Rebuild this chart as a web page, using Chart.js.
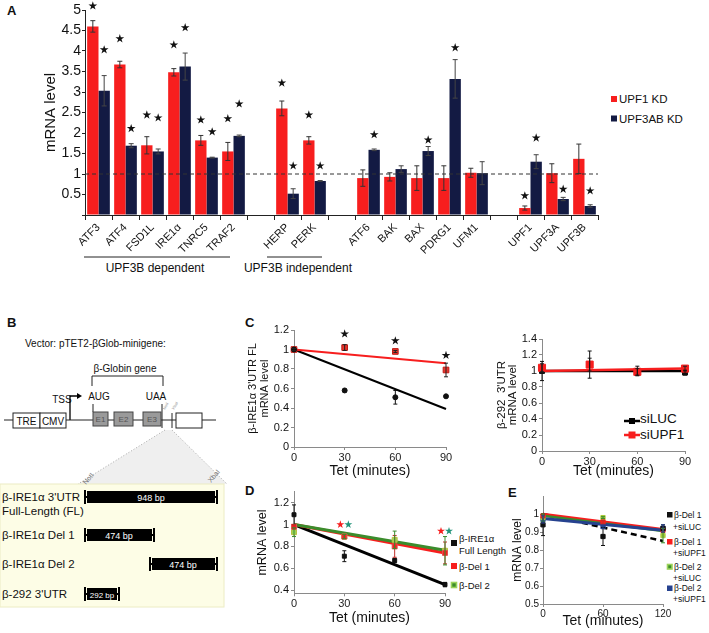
<!DOCTYPE html>
<html>
<head>
<meta charset="utf-8">
<title>UPF knockdown and IRE1a 3'UTR decay</title>
<script src="https://cdn.jsdelivr.net/npm/chart.js@4.4.1/dist/chart.umd.min.js"></script>
<style>
  body { margin: 0; width: 709px; height: 633px; position: relative; overflow: hidden; background: #fff;
         font-family: "Liberation Sans", Arial, Helvetica, sans-serif; color: #111; }
  canvas, svg { position: absolute; }
  svg text { font-family: "Liberation Sans", Arial, Helvetica, sans-serif; fill: #111; }
  .pl { font-weight: bold; font-size: 13px; }
</style>
</head>
<body>
<svg width="709" height="633" style="left:0;top:0">
  <!-- panel letters -->
  <text class="pl" x="7" y="15">A</text>
  <text class="pl" x="7" y="327">B</text>
  <text class="pl" x="245" y="327">C</text>
  <text class="pl" x="245" y="495">D</text>
  <text class="pl" x="508" y="497">E</text>

  <!-- A: gene groups -->
  <line x1="84" y1="257" x2="230" y2="257" stroke="#222"/>
  <text x="155" y="272" text-anchor="middle" font-size="12">UPF3B dependent</text>
  <line x1="267" y1="257" x2="322" y2="257" stroke="#222"/>
  <text x="298" y="272" text-anchor="middle" font-size="12">UPF3B independent</text>

  <!-- A: legend -->
  <rect x="611" y="96" width="6" height="6" fill="#f71e1e"/>
  <text x="619" y="103" font-size="11.5">UPF1 KD</text>
  <rect x="611" y="115.5" width="6" height="6" fill="#131a43"/>
  <text x="619" y="122.5" font-size="11.5">UPF3AB KD</text>

  <!-- B: vector map -->
  <text x="25" y="347" font-size="10">Vector: pTET2-βGlob-minigene:</text>
  <path d="M92 386 V376 H163 V386" fill="none" stroke="#222"/>
  <text x="125" y="372" text-anchor="middle" font-size="10">β-Globin gene</text>
  <text x="99" y="400" text-anchor="middle" font-size="10">AUG</text>
  <text x="156" y="400" text-anchor="middle" font-size="10">UAA</text>
  <text x="62" y="403" text-anchor="middle" font-size="10">TSS</text>
  <path d="M70 420 V396 H78" fill="none" stroke="#000" stroke-width="1.3"/>
  <path d="M77 393 L82 396 L77 399 Z" fill="#000"/>
  <polygon points="165,430 172,430 227,484 78,484" fill="#efefef"/>
  <line x1="165" y1="430" x2="78" y2="484" stroke="#aaa" stroke-dasharray="1,2"/>
  <line x1="172" y1="430" x2="227" y2="484" stroke="#aaa" stroke-dasharray="1,2"/>
  <line x1="4" y1="420" x2="216" y2="420" stroke="#222"/>
  <rect x="13" y="413" width="27" height="15" fill="#fff" stroke="#222"/>
  <rect x="40" y="413" width="26" height="15" fill="#fff" stroke="#222"/>
  <text x="26.5" y="424.5" text-anchor="middle" font-size="10">TRE</text>
  <text x="53" y="424.5" text-anchor="middle" font-size="10">CMV</text>
  <line x1="93" y1="404" x2="93" y2="412" stroke="#222"/>
  <line x1="162" y1="404" x2="162" y2="428" stroke="#222"/>
  <rect x="93" y="412" width="15" height="14" fill="#9a9a9a" stroke="#444"/>
  <rect x="114" y="412" width="19" height="14" fill="#9a9a9a" stroke="#444"/>
  <rect x="143" y="412" width="18" height="14" fill="#9a9a9a" stroke="#444"/>
  <text x="100.5" y="422" text-anchor="middle" font-size="8" style="fill:#555">E1</text>
  <text x="123.5" y="422" text-anchor="middle" font-size="8" style="fill:#555">E2</text>
  <text x="152" y="422" text-anchor="middle" font-size="8" style="fill:#555">E3</text>
  <line x1="172" y1="413" x2="172" y2="428" stroke="#222"/>
  <rect x="176" y="413" width="26" height="15" fill="#fff" stroke="#222"/>
  <text x="165" y="410" font-size="4" transform="rotate(-60 165 410)" style="fill:#888">NotI</text>
  <text x="174" y="410" font-size="4" transform="rotate(-60 174 410)" style="fill:#888">XbaI</text>

  <!-- B: 3'UTR constructs -->
  <rect x="0" y="484" width="224" height="123" fill="#fdfde6" stroke="#ececc4"/>
  <text x="86" y="485" font-size="7" transform="rotate(-50 86 485)" style="fill:#777">NotI</text>
  <text x="211" y="483" font-size="7" transform="rotate(-50 211 483)" style="fill:#777">XbaI</text>

  <text x="2" y="501" font-size="11.5">β-IRE1α 3'UTR</text>
  <text x="2" y="515" font-size="11.5">Full-Length (FL)</text>
  <path d="M85 490 V504 M85 497 H88 M217 490 V504 M217 497 H214" stroke="#000" stroke-width="2"/>
  <rect x="87" y="491" width="128" height="12" fill="#000"/>
  <text x="151" y="500.5" text-anchor="middle" font-size="9" style="fill:#fff">948 bp</text>

  <text x="2" y="539" font-size="11.5">β-IRE1α Del 1</text>
  <path d="M85 528 V542 M85 535 H88 M154 528 V542 M154 535 H151" stroke="#000" stroke-width="2"/>
  <rect x="87" y="529" width="65" height="12" fill="#000"/>
  <text x="119" y="538.5" text-anchor="middle" font-size="9" style="fill:#fff">474 bp</text>

  <text x="2" y="568" font-size="11.5">β-IRE1α Del 2</text>
  <path d="M150 557 V571 M150 564 H153 M217 557 V571 M217 564 H214" stroke="#000" stroke-width="2"/>
  <rect x="152" y="558" width="63" height="12" fill="#000"/>
  <text x="183" y="567.5" text-anchor="middle" font-size="9" style="fill:#fff">474 bp</text>

  <text x="2" y="598" font-size="11.5">β-292 3'UTR</text>
  <path d="M85 587 V601 M85 594 H88 M119 587 V601 M119 594 H116" stroke="#000" stroke-width="2"/>
  <rect x="87" y="588" width="30" height="12" fill="#000"/>
  <text x="102" y="597.5" text-anchor="middle" font-size="8" style="fill:#fff">292 bp</text>

  <!-- C right: legend -->
  <line x1="624" y1="421" x2="640" y2="421" stroke="#000" stroke-width="2.5"/>
  <rect x="629" y="418" width="6" height="6" fill="#000"/>
  <text x="640" y="423" font-size="13.5">siLUC</text>
  <line x1="624" y1="435" x2="640" y2="435" stroke="#f71e1e" stroke-width="2.5"/>
  <rect x="628.5" y="431.5" width="7" height="7" fill="#f71e1e"/>
  <text x="640" y="439" font-size="13.5">siUPF1</text>

  <!-- D: legend -->
  <rect x="451" y="540" width="6" height="6" fill="#111"/>
  <text x="459" y="542" font-size="9.5">β-IRE1α</text>
  <text x="459" y="554" font-size="9.5">Full Length</text>
  <rect x="451" y="563" width="6" height="6" fill="#f71e1e"/>
  <text x="459" y="569.5" font-size="9.5">β-Del 1</text>
  <rect x="451.5" y="582.5" width="5" height="5" fill="#3b8c2c" stroke="#9bd35a" stroke-width="1.6"/>
  <text x="459" y="588.5" font-size="9.5">β-Del 2</text>

  <!-- E: legend -->
  <rect x="667" y="512" width="5.5" height="5.5" fill="#111"/>
  <text x="674" y="518" font-size="8.5">β-Del 1</text>
  <text x="673" y="530" font-size="8.5">+siLUC</text>
  <rect x="667" y="539" width="5.5" height="5.5" fill="#f71e1e"/>
  <text x="674" y="545" font-size="8.5">β-Del 1</text>
  <text x="673" y="555.5" font-size="8.5">+siUPF1</text>
  <rect x="667.5" y="564.5" width="4.5" height="4.5" fill="#3b8c2c" stroke="#9bd35a" stroke-width="1.6"/>
  <text x="674" y="570" font-size="8.5">β-Del 2</text>
  <text x="673" y="580.5" font-size="8.5">+siLUC</text>
  <rect x="667" y="585.5" width="5.5" height="5.5" fill="#26428f"/>
  <text x="674" y="591" font-size="8.5">β-Del 2</text>
  <text x="673" y="602" font-size="8.5">+siUPF1</text>
</svg>

<script>
Chart.defaults.font.family = '"Liberation Sans", Arial, Helvetica, sans-serif';
Chart.defaults.color = '#111';

const RED = '#f71e1e', NAVY = '#131a43', GREEN = '#3b8c2c', LIGHT_GREEN = '#9bd35a', BLUE = '#26428f';
const AXIS = '#8a8a8a';

// ---- A: mRNA level after knockdown (blank labels are the gaps between gene groups)
const genes = ['ATF3', 'ATF4', 'FSD1L', 'IRE1α', 'TNRC5', 'TRAF2', '', 'HERP', 'PERK', '',
  'ATF6', 'BAK', 'BAX', 'PDRG1', 'UFM1', '', 'UPF1', 'UPF3A', 'UPF3B'];
const upf1KD = [4.60, 3.67, 1.70, 3.48, 1.82, 1.55, null, 2.60, 1.82, null,
  0.90, 0.93, 0.90, 0.90, 1.03, null, 0.17, 1.02, 1.37];
const upf1KDErr = [0.14, 0.08, 0.21, 0.09, 0.12, 0.22, null, 0.18, 0.09, null,
  0.20, 0.10, 0.30, 0.30, 0.11, null, 0.05, 0.23, 0.36];
const upf3abKD = [3.03, 1.69, 1.55, 3.62, 1.40, 1.93, null, 0.52, 0.83, null,
  1.59, 1.12, 1.56, 3.32, 1.02, null, 1.30, 0.39, 0.22];
const upf3abKDErr = [0.37, 0.05, 0.06, 0.33, 0.01, 0.02, null, 0.12, 0.01, null,
  0.02, 0.08, 0.11, 0.47, 0.28, null, 0.17, 0.04, 0.03];
const upf1KDStar = [5.10, 4.30, 2.44, 4.15, 2.32, 2.35, null, 3.22, 2.44, null,
  null, null, null, null, null, null, 0.47, null, null];
const upf3abKDStar = [4.03, 2.11, 2.37, 4.57, 2.03, 2.71, null, 1.20, 1.20, null,
  1.96, null, 1.83, 4.08, null, null, 1.88, 0.63, 0.59];
const aRefLevel = 1;

// ---- C: decay after Tet, full-length 3'UTR and β-292 control
const tetC = [0, 30, 60, 90];
const flLuc = [1.00, 0.58, 0.51, 0.52];
const flLucErr = [0.01, 0.015, 0.07, 0.01];
const flUpf1 = [1.00, 1.02, 0.98, 0.79];
const flUpf1Err = [0.01, 0.03, 0.01, 0.07];
const flLucFit = [1.00, 0.39];
const flUpf1Fit = [1.00, 0.86];
const flStar = [null, 1.16, 1.09, 0.94];

const c292Luc = [1.00, 1.08, 1.00, 0.98];
const c292LucErr = [0.12, 0.17, 0.06, 0.03];
const c292Upf1 = [1.04, 1.08, 0.99, 1.03];
const c292Upf1Err = [0.05, 0.08, 0.04, 0.03];
const c292LucFit = [1.00, 1.00];
const c292Upf1Fit = [1.00, 1.03];

// ---- D: deletion constructs
const tetD = [0, 30, 60, 90];
const dFull = [1.09, 0.71, 0.67, 0.45];
const dFullErr = [0.09, 0.05, 0.02, 0.02];
const dDel1 = [0.98, 0.89, 0.80, 0.74];
const dDel1Err = [0.02, 0.02, 0.10, 0.10];
const dDel2 = [0.93, 0.89, 0.86, 0.76];
const dDel2Err = [0.04, 0.02, 0.08, 0.13];
const dFullFit = [1.00, 0.45];
const dDel1Fit = [1.00, 0.74];
const dDel2Fit = [1.00, 0.765];
const dDelStar = [null, 1.00, null, 0.94];

// ---- E: deletion constructs with siLUC / siUPF1
const tetE = [0, 60, 120];
const eDel1Luc = [0.94, 0.875, 0.92];
const eDel1LucErr = [0.06, 0.05, 0.02];
const eDel1Upf1 = [0.99, 0.955, 0.91];
const eDel1Upf1Err = [0.01, 0.01, 0.01];
const eDel2Luc = [0.98, 0.98, 0.88];
const eDel2LucErr = [0.02, 0.005, 0.04];
const eDel2Upf1 = [0.97, 0.93, 0.92];
const eDel2Upf1Err = [0.02, 0.01, 0.02];
const eDel1LucFit = [1.00, 0.85];
const eDel1Upf1Fit = [1.00, 0.915];
const eDel2LucFit = [0.99, 0.905];
const eDel2Upf1Fit = [0.975, 0.91];
const eTicks = [0.5, 0.6, 0.7, 0.8, 0.9, 1];
const eTickLabels = ['0.5', '0.6', '0.7', '0.8', '0.9', '1'];

// error bars, drawn through the y scale
const errorBars = {
  id: 'errorBars',
  afterDatasetsDraw(chart) {
    const { ctx } = chart, y = chart.scales.y;
    chart.data.datasets.forEach((ds, i) => {
      if (!ds.errors) return;
      const meta = chart.getDatasetMeta(i);
      ctx.save();
      ctx.strokeStyle = ds.errorColor || '#222';
      ctx.lineWidth = 1;
      meta.data.forEach((el, j) => {
        const d = ds.data[j];
        const v = d && typeof d === 'object' ? d.y : d;
        const e = ds.errors[j];
        if (v == null || !e) return;
        const top = y.getPixelForValue(v + e), bot = y.getPixelForValue(v - e), w = ds.capWidth || 2;
        ctx.beginPath();
        ctx.moveTo(el.x, top); ctx.lineTo(el.x, bot);
        ctx.moveTo(el.x - w, top); ctx.lineTo(el.x + w, top);
        ctx.moveTo(el.x - w, bot); ctx.lineTo(el.x + w, bot);
        ctx.stroke();
      });
      ctx.restore();
    });
  }
};

function drawStar(ctx, x, y, r) {
  ctx.beginPath();
  for (let k = 0; k < 10; k++) {
    const rad = k % 2 ? r * 0.38 : r;
    const a = -Math.PI / 2 + k * Math.PI / 5;
    ctx.lineTo(x + rad * Math.cos(a), y + rad * Math.sin(a));
  }
  ctx.closePath();
  ctx.fill();
}

// significance stars
const starMarks = {
  id: 'starMarks',
  afterDatasetsDraw(chart) {
    const { ctx } = chart, y = chart.scales.y;
    chart.data.datasets.forEach((ds, i) => {
      if (!ds.stars) return;
      const meta = chart.getDatasetMeta(i);
      ctx.save();
      ctx.fillStyle = ds.starColor || '#111';
      ds.stars.forEach((s, j) => {
        if (s == null) return;
        drawStar(ctx, meta.data[j].x + (ds.starDx || 0), y.getPixelForValue(s), ds.starSize || 5);
      });
      ctx.restore();
    });
  }
};

// y tick labels written at the scale's own pixel positions (used for panel E)
const yTickText = {
  id: 'yTickText',
  afterDraw(chart, args, opts) {
    if (!opts || !opts.values) return;
    const { ctx } = chart, y = chart.scales.y;
    ctx.save();
    ctx.font = opts.size + 'px "Liberation Sans", Arial, Helvetica, sans-serif';
    ctx.fillStyle = '#111';
    ctx.textAlign = 'right';
    ctx.textBaseline = 'middle';
    opts.values.forEach((v, i) => ctx.fillText(opts.labels[i], y.right - opts.offset, y.getPixelForValue(v)));
    ctx.restore();
  }
};

const refLine = {
  id: 'refLine',
  afterDatasetsDraw(chart, args, opts) {
    const { ctx, chartArea } = chart;
    const py = chart.scales.y.getPixelForValue(opts.value);
    ctx.save();
    ctx.strokeStyle = '#333';
    ctx.lineWidth = 1;
    ctx.setLineDash([4, 3]);
    ctx.beginPath();
    ctx.moveTo(chartArea.left, py); ctx.lineTo(chartArea.right, py);
    ctx.stroke();
    ctx.restore();
  }
};

function addCanvas(box) {
  const cv = document.createElement('canvas');
  cv.width = box[2]; cv.height = box[3];
  cv.style.left = box[0] + 'px'; cv.style.top = box[1] + 'px';
  document.body.appendChild(cv);
  return cv;
}

const pts = (xs, ys) => xs.map((x, i) => ({ x, y: ys[i] }));
const pointSet = (xs, ys, errs, style) => Object.assign({
  data: pts(xs, ys), errors: errs, clip: false, pointStyle: 'rect', pointRadius: 3.5, borderWidth: 1
}, style);
const fitSet = (xs, fit, style) => Object.assign({
  data: pts([xs[0], xs[xs.length - 1]], fit), showLine: true, pointRadius: 0, borderWidth: 2.5, clip: false
}, style);

// box = canvas [left, top, width, height], area = plot [left, top, right, bottom], page pixels
function xyChart(box, area, o) {
  const ownLabels = !!o.yLabels;
  return new Chart(addCanvas(box), {
    type: 'scatter',
    data: { datasets: o.datasets },
    options: {
      responsive: false, animation: false, events: [],
      layout: { padding: { top: area[1] - box[1], right: box[0] + box[2] - area[2], left: 0, bottom: 0 } },
      plugins: {
        legend: { display: false }, tooltip: { enabled: false },
        yTickText: ownLabels ? { values: o.yTicks, labels: o.yLabels, size: o.tickSize, offset: (o.tickLen || 3) + (o.tickPad ?? 2) } : {}
      },
      scales: {
        x: {
          type: 'linear', min: o.xTicks[0], max: o.xTicks[o.xTicks.length - 1],
          afterBuildTicks: s => { s.ticks = o.xTicks.map(value => ({ value })); },
          afterFit: s => { s.height = box[1] + box[3] - area[3]; },
          grid: { drawOnChartArea: false, tickLength: o.tickLen || 3, color: AXIS },
          border: { color: AXIS },
          ticks: { autoSkip: false, maxRotation: 0, font: { size: o.tickSize }, padding: o.tickPad ?? 1, color: '#222' },
          title: { display: true, text: 'Tet (minutes)', font: { size: 14 }, padding: 0, color: '#111' }
        },
        y: {
          type: 'linear', min: o.yMin, max: o.yMax,
          afterBuildTicks: s => { s.ticks = o.yTicks.map(value => ({ value })); },
          afterFit: s => { s.width = area[0] - box[0]; },
          grid: { drawOnChartArea: false, tickLength: o.tickLen || 3, color: AXIS },
          border: { color: AXIS },
          ticks: {
            display: !ownLabels, autoSkip: false, font: { size: o.tickSize }, padding: o.tickPad ?? 2, color: '#111',
            callback: v => String(+v.toFixed(2))
          },
          title: { display: true, text: o.yTitle, font: { size: o.yTitleSize, lineHeight: o.yTitleLH }, padding: 0, color: '#111' }
        }
      }
    },
    plugins: [errorBars, starMarks, yTickText]
  });
}

// ---- Panel A
new Chart(addCanvas([0, 0, 709, 285]), {
  type: 'bar',
  data: {
    labels: genes,
    datasets: [
      { label: 'UPF1 KD', data: upf1KD, backgroundColor: RED, errors: upf1KDErr, stars: upf1KDStar,
        errorColor: '#333', capWidth: 2.5, starSize: 4.6 },
      { label: 'UPF3AB KD', data: upf3abKD, backgroundColor: NAVY, errors: upf3abKDErr, stars: upf3abKDStar,
        errorColor: '#444', capWidth: 2.5, starSize: 4.6 }
    ]
  },
  options: {
    responsive: false, animation: false, events: [],
    layout: { padding: { top: 10, right: 111, left: 0, bottom: 0 } },
    datasets: { bar: { categoryPercentage: 0.84, barPercentage: 1 } },
    plugins: { legend: { display: false }, tooltip: { enabled: false }, refLine: { value: aRefLevel } },
    scales: {
      x: {
        afterFit: s => { s.height = 70; },
        grid: { drawOnChartArea: false, offset: true, tickLength: 5, color: '#222' },
        border: { color: '#222' },
        ticks: { autoSkip: false, maxRotation: 45, minRotation: 45, font: { size: 11 }, padding: 1, color: '#111' }
      },
      y: {
        min: 0, max: 5,
        afterFit: s => { s.width = 85; },
        grid: { drawOnChartArea: false, tickLength: 3, color: '#222' },
        border: { color: '#222' },
        ticks: { autoSkip: false, stepSize: 0.5, font: { size: 14 }, padding: 1, color: '#111', callback: v => v === 0 ? '' : v },
        title: { display: true, text: 'mRNA level', font: { size: 15 }, padding: { top: 42, bottom: 0 }, color: '#111' }
      }
    }
  },
  plugins: [errorBars, starMarks, refLine]
});

// ---- Panel C left: β-IRE1α 3'UTR FL
xyChart([247, 318, 210, 162], [294, 330, 446, 447], {
  xTicks: tetC, yMin: 0, yMax: 1.2, yTicks: [0, 0.2, 0.4, 0.6, 0.8, 1, 1.2], tickSize: 11,
  yTitle: ["β-IRE1α 3'UTR FL", 'mRNA level'], yTitleSize: 11, yTitleLH: 1.1,
  datasets: [
    pointSet(tetC, flLuc, flLucErr, { pointStyle: 'circle', pointRadius: 2.5, backgroundColor: '#111', borderColor: '#111',
      errorColor: '#111', stars: flStar, starSize: 4.6 }),
    pointSet(tetC, flUpf1, flUpf1Err, { pointRadius: 4, backgroundColor: '#e8372f', borderColor: '#c01a14', errorColor: '#222' }),
    fitSet(tetC, flUpf1Fit, { borderColor: RED, borderWidth: 2 }),
    fitSet(tetC, flLucFit, { borderColor: '#000', borderWidth: 2 })
  ]
});

// ---- Panel C right: β-292 3'UTR
xyChart([496, 325, 213, 155], [542, 339, 685, 451], {
  xTicks: tetC, yMin: 0, yMax: 1.4, yTicks: [0, 0.2, 0.4, 0.6, 0.8, 1, 1.2, 1.4], tickSize: 11,
  yTitle: ["β-292  3'UTR", 'mRNA level'], yTitleSize: 11.5, yTitleLH: 1.0,
  datasets: [
    pointSet(tetC, c292Upf1, c292Upf1Err, { pointRadius: 5, backgroundColor: RED, borderColor: RED, errorColor: '#222' }),
    pointSet(tetC, c292Luc, c292LucErr, { pointRadius: 3.5, backgroundColor: '#111', borderColor: '#111', errorColor: '#111' }),
    fitSet(tetC, c292Upf1Fit, { borderColor: RED, borderWidth: 2.5 }),
    fitSet(tetC, c292LucFit, { borderColor: '#000', borderWidth: 2.5 })
  ]
});

// ---- Panel D
xyChart([255, 480, 200, 147], [294, 491.8, 445, 593.3], {
  xTicks: tetD, yMin: 0.37, yMax: 1.3, yTicks: [0.4, 0.6, 0.8, 1, 1.2], tickSize: 11,
  yTitle: 'mRNA level', yTitleSize: 12.5, yTitleLH: 1.2,
  datasets: [
    pointSet(tetD, dFull, dFullErr, { pointRadius: 2.8, backgroundColor: '#111', borderColor: '#111', errorColor: '#111' }),
    pointSet(tetD, dDel1, dDel1Err, { pointRadius: 3.5, backgroundColor: RED, borderColor: '#e05050', errorColor: '#c0302a',
      stars: dDelStar, starColor: RED, starDx: -4, starSize: 4.2 }),
    pointSet(tetD, dDel2, dDel2Err, { pointRadius: 3.5, backgroundColor: LIGHT_GREEN, borderColor: '#b8c040', errorColor: GREEN,
      stars: dDelStar, starColor: '#22947a', starDx: 4, starSize: 4.2 }),
    fitSet(tetD, dDel2Fit, { borderColor: GREEN, borderWidth: 3 }),
    fitSet(tetD, dDel1Fit, { borderColor: RED, borderWidth: 3 }),
    fitSet(tetD, dFullFit, { borderColor: '#000', borderWidth: 3 })
  ]
});

// ---- Panel E (axis runs to 1.1, labelled up to 1)
xyChart([512, 480, 162, 150], [543, 496, 663, 604], {
  xTicks: tetE, yMin: 0.5, yMax: 1.1, yTicks: eTicks, yLabels: eTickLabels,
  tickSize: 10, tickLen: 3, tickPad: 1,
  yTitle: 'mRNA level', yTitleSize: 12, yTitleLH: 1.0,
  datasets: [
    pointSet(tetE, eDel1Luc, eDel1LucErr, { pointRadius: 3, backgroundColor: '#111', borderColor: '#111', errorColor: '#111' }),
    pointSet(tetE, eDel1Upf1, eDel1Upf1Err, { pointRadius: 3, backgroundColor: RED, borderColor: RED, errorColor: '#c0302a' }),
    pointSet(tetE, eDel2Luc, eDel2LucErr, { pointRadius: 3, backgroundColor: '#a8c83a', borderColor: '#a8c83a', errorColor: GREEN }),
    pointSet(tetE, eDel2Upf1, eDel2Upf1Err, { pointRadius: 3, backgroundColor: BLUE, borderColor: BLUE, errorColor: BLUE }),
    fitSet(tetE, eDel2Upf1Fit, { borderColor: BLUE, borderWidth: 3 }),
    fitSet(tetE, eDel2LucFit, { borderColor: GREEN, borderWidth: 2.5 }),
    fitSet(tetE, eDel1Upf1Fit, { borderColor: RED, borderWidth: 2.5 }),
    fitSet(tetE, eDel1LucFit, { borderColor: '#000', borderWidth: 2.5, borderDash: [6, 4] })
  ]
});
</script>
</body>
</html>
